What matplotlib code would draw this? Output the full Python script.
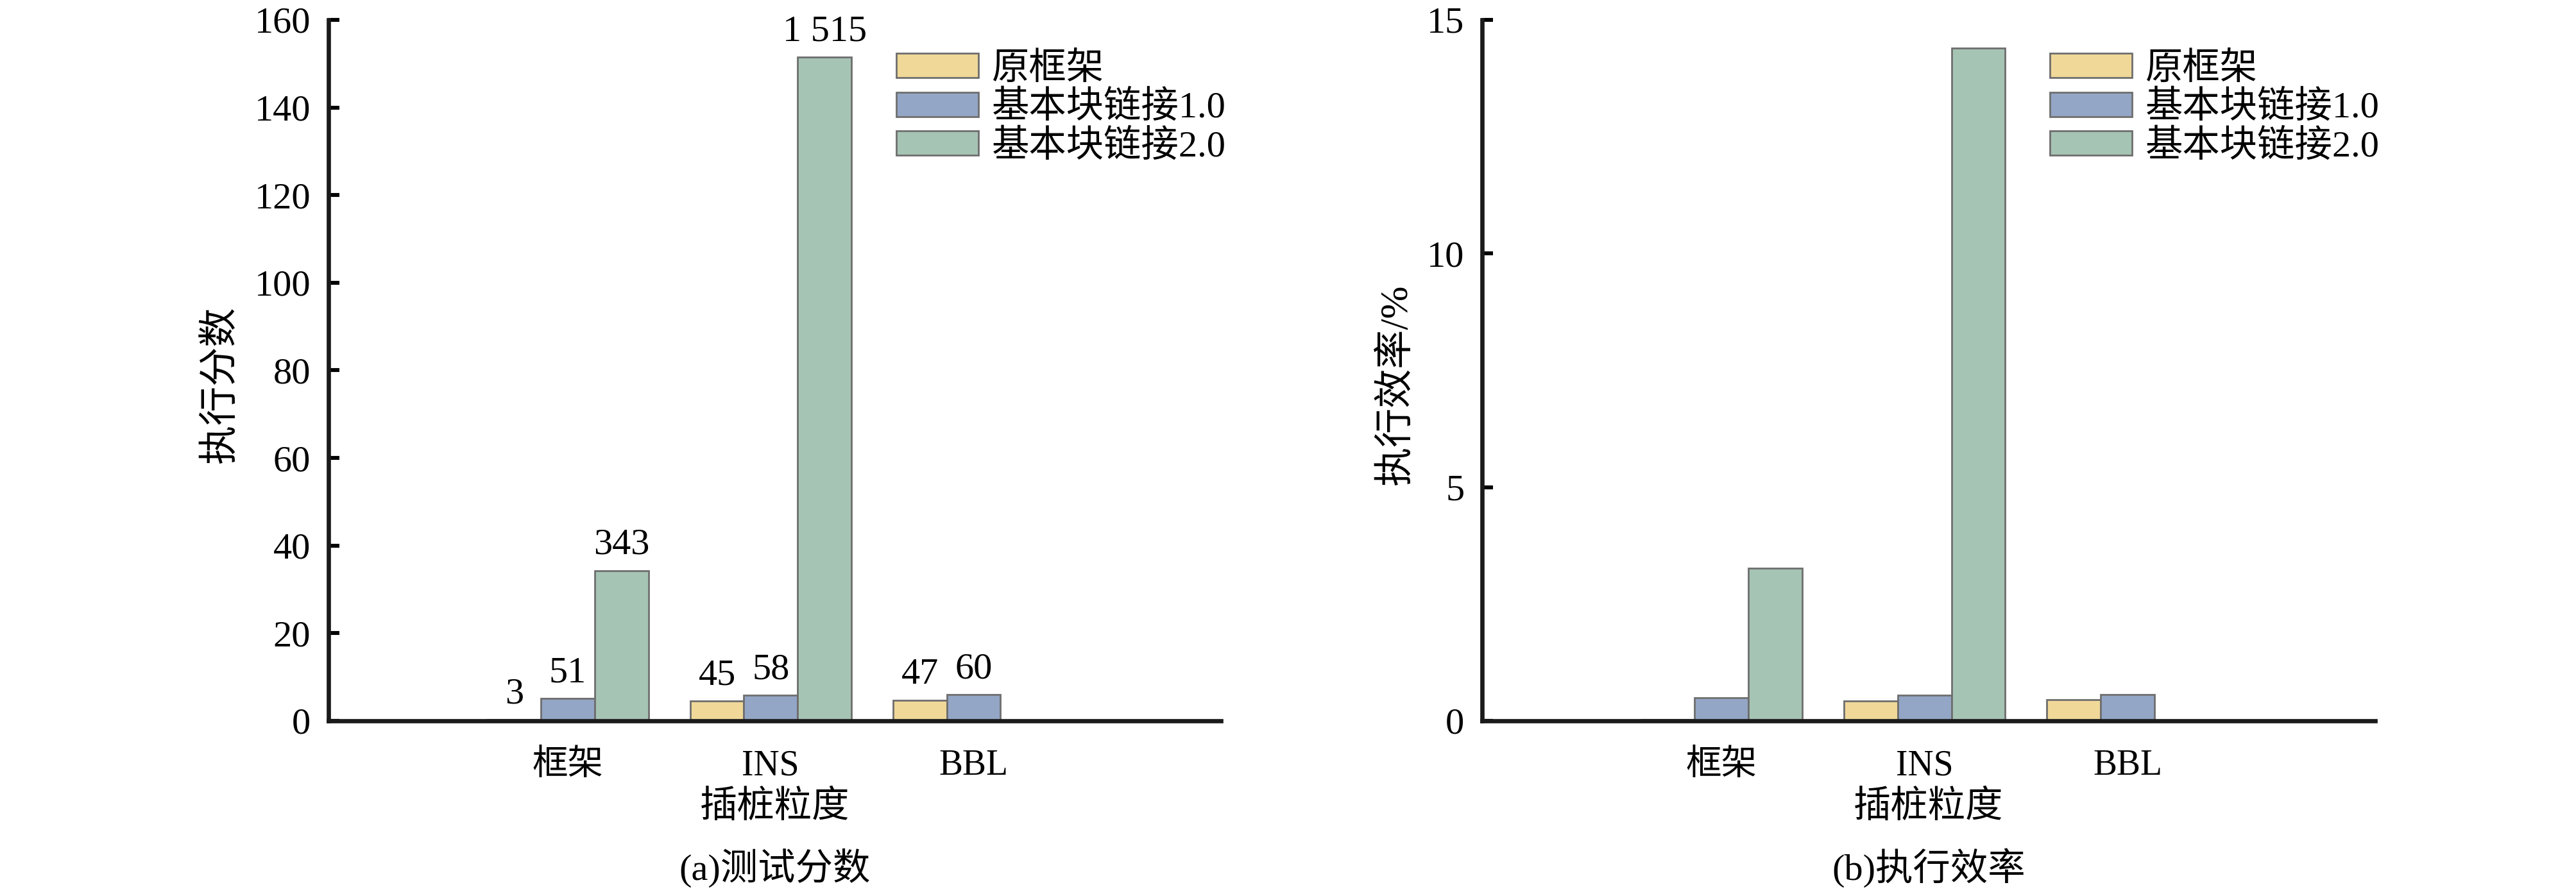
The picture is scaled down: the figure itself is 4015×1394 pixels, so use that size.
import numpy as np
import matplotlib
matplotlib.use('Agg')
import matplotlib.pyplot as plt

plt.rcParams['font.family'] = ['Liberation Serif', 'Noto Sans CJK SC']

categories = ['框架', 'INS', 'BBL']
series_names = ['原框架', '基本块链接1.0', '基本块链接2.0']
colors = ['#F0D898', '#94A6C6', '#A6C4B4']

# (a) 测试分数 (bar heights are score/10, labels show the raw score)
score_orig = [0.3, 4.5, 4.7]
score_bbl1 = [5.1, 5.8, 6.0]
score_bbl2 = [34.3, 151.5, 0]
score_text_orig = ['3', '45', '47']
score_text_bbl1 = ['51', '58', '60']
score_text_bbl2 = ['343', '1 515', '']

# (b) 执行效率 (%)
eff_orig = [0.03, 0.42, 0.45]
eff_bbl1 = [0.49, 0.55, 0.56]
eff_bbl2 = [3.26, 14.4, 0]


def draw_panel(ax, series, texts, ylim, yticks, ylabel, ylabel_x, caption, legend_xy):
    x = np.arange(1, len(categories) + 1)
    width = 0.265
    for i, vals in enumerate(series):
        bars = ax.bar(x + (i - 1) * width, vals, width, color=colors[i],
                      edgecolor='#6E6E6E', linewidth=1.0, label=series_names[i])
        if texts is not None:
            ax.bar_label(bars, labels=texts[i], padding=5, fontsize=21)

    ax.set_xlim(-0.18, 4.22)
    ax.set_ylim(*ylim)
    ax.set_yticks(yticks)
    ax.set_xticks(x)
    ax.set_xticklabels(categories)

    for s in ['top', 'right']:
        ax.spines[s].set_visible(False)
    for s in ['left', 'bottom']:
        ax.spines[s].set_linewidth(2.4)
        ax.spines[s].set_color('#1a1a1a')

    ax.tick_params(axis='y', direction='in', length=6, width=2.2, labelsize=21, pad=10)
    ax.tick_params(axis='x', length=0, labelsize=20, pad=16)

    ax.set_ylabel(ylabel, fontsize=22)
    ax.yaxis.set_label_coords(ylabel_x, 0.48)

    ax.text(0.5, -0.1235, '插桩粒度', transform=ax.transAxes,
            ha='center', va='center', fontsize=21)
    ax.text(0.5, -0.2095, caption, transform=ax.transAxes,
            ha='center', va='center', fontsize=21)

    ax.legend(loc='upper left', bbox_to_anchor=legend_xy, bbox_transform=ax.figure.transFigure,
              frameon=False, borderpad=0, borderaxespad=0, fontsize=21,
              handlelength=2.2, handleheight=0.62, handletextpad=0.35, labelspacing=0.1)


fig = plt.figure(figsize=(20.08, 6.97), dpi=200)
ax1 = fig.add_axes([0.1275, 0.1937, 0.3464, 0.7841])
ax2 = fig.add_axes([0.5752, 0.1937, 0.3466, 0.7841])

draw_panel(ax1, [score_orig, score_bbl1, score_bbl2],
           [score_text_orig, score_text_bbl1, score_text_bbl2],
           (0, 160), range(0, 161, 20), '执行分数', -0.100,
           '(a)测试分数', (0.3479, 0.942))
draw_panel(ax2, [eff_orig, eff_bbl1, eff_bbl2], None,
           (0, 15), [0, 5, 10, 15], '执行效率/%', -0.075,
           '(b)执行效率', (0.7956, 0.942))

fig.savefig('out.png', dpi=200)
